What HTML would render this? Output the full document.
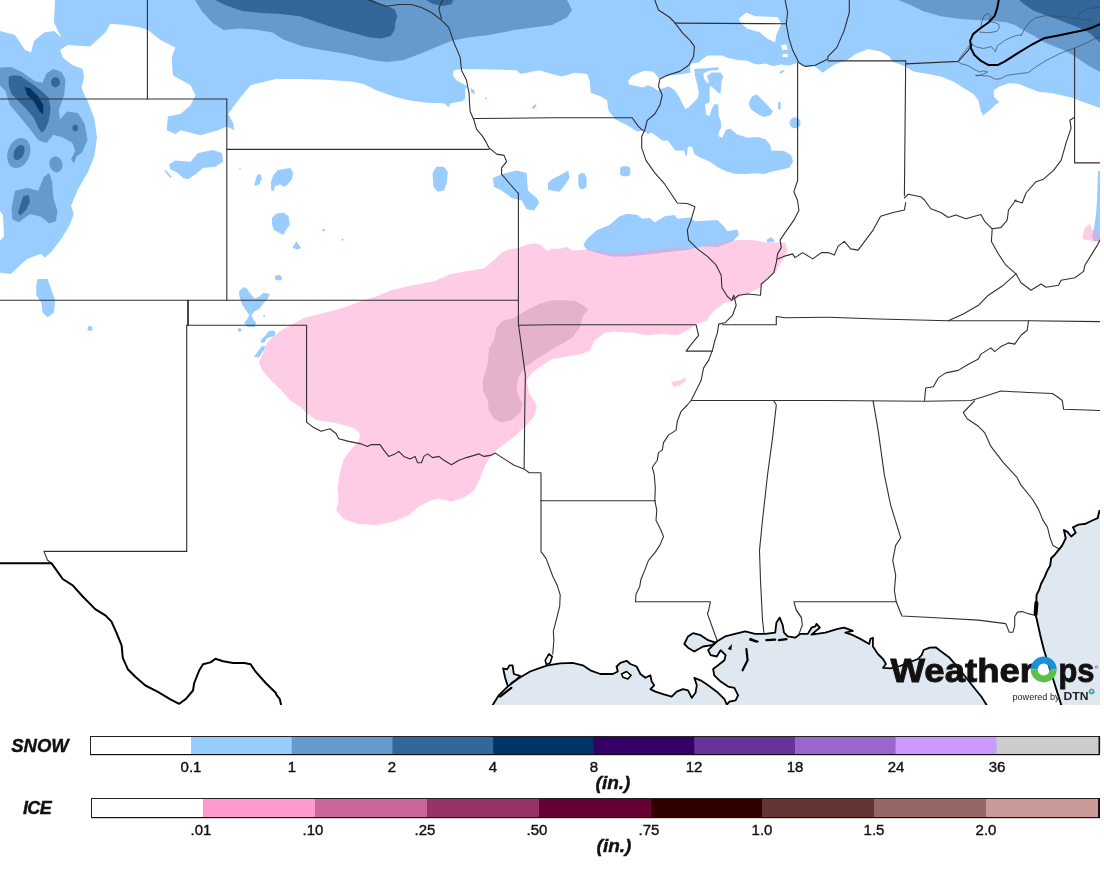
<!DOCTYPE html>
<html><head><meta charset="utf-8"><title>WeatherOps Snow and Ice</title>
<style>
html,body{margin:0;padding:0;background:#fff;}
body{width:1104px;height:878px;position:relative;overflow:hidden;font-family:"Liberation Sans",sans-serif;color:#111;}
.lb{-webkit-text-stroke:0.4px #111;will-change:transform;position:absolute;width:100px;text-align:center;line-height:1.15;white-space:nowrap;}
</style></head><body>
<svg id="map" width="1100" height="705" viewBox="0 0 1100 705" style="position:absolute;left:0;top:0;will-change:transform">
<rect width="1100" height="705" fill="#fff"/>
<polygon points="493.0,704.6 498.8,695.3 507.6,686.6 517.6,679.0 530.1,671.5 540.2,667.8 547.7,665.3 560.2,663.3 572.7,662.8 582.8,665.3 590.3,670.3 600.3,674.0 612.8,674.0 617.8,671.5 616.6,666.5 620.4,662.8 626.6,660.8 630.4,664.0 636.6,666.5 640.4,674.0 645.4,677.8 650.4,675.3 651.7,681.6 654.2,685.3 650.4,689.1 655.4,691.6 663.0,694.1 671.7,696.6 676.7,691.6 683.0,689.1 688.0,690.3 691.8,697.8 695.5,692.8 696.8,685.3 694.3,677.8 700.6,680.3 708.1,685.3 718.1,692.8 724.4,699.1 726.9,704.6 729.4,701.6 735.6,700.4 738.1,695.3 734.4,687.8 728.1,686.6 720.6,681.6 714.3,675.3 713.1,669.0 718.1,665.3 724.4,660.3 725.6,655.2 720.6,650.2 716.8,656.5 710.6,655.2 708.1,650.2 713.1,645.2 716.8,641.5 725.1,636.4 735.1,633.9 745.1,631.4 755.1,633.9 765.2,633.9 775.2,632.7 776.4,622.7 779.7,617.6 782.7,625.2 784.0,632.7 787.7,636.4 795.2,637.7 800.3,633.9 807.8,633.9 811.5,627.7 815.3,626.4 816.5,623.9 819.8,627.7 815.3,631.4 811.5,634.7 825.3,632.7 837.8,628.9 844.1,627.7 852.9,630.9 845.4,632.7 852.9,635.2 860.4,638.9 869.2,644.0 870.4,638.9 872.9,637.7 872.9,646.5 877.9,654.0 883.0,659.0 886.0,664.0 883.0,667.8 890.5,668.3 900,666 910,662 918,659 921.6,655.2 923.6,650 929.7,647.7 935.8,647.3 940.9,651.2 949,657.2 957,666.4 965.2,676.5 973.3,686.7 981.4,696.8 986.5,704.8 986.5,705 492.8,705" fill="#dfe7f0" />
<polygon points="1099.4,510.9 1097.6,518.2 1091.2,521 1085.8,523.7 1078.5,524.6 1073,527.3 1075.7,532.8 1071.2,536.5 1067.5,531.9 1063.9,530.1 1065.7,538.3 1062.1,545.6 1059.3,549.2 1054.8,554.7 1051.1,558.3 1050.2,565.6 1047.5,570.2 1044.8,576.6 1041.1,583.8 1039.3,589.3 1036.6,594.8 1036.2,603.9 1035.1,613 1036.6,618.5 1040.2,634.9 1043.8,649.5 1061.2,704.8 1100,705 1100,510.9" fill="#dfe7f0" />
<polygon points="684.3,644.0 688.0,636.4 693.0,633.2 700.6,635.2 708.1,640.2 715.6,642.7 711.8,645.2 703.1,646.5 694.3,651.5 688.0,647.7" fill="#dfe7f0" />
<polygon points="507.6,685.3 505.1,677.8 503.1,668.3 507.1,669.3 509.6,665.3 512.6,665.3 513.8,674.0 520.1,675.8 516.3,679.8 511.3,683.3" fill="#dfe7f0" />
<polygon points="621.6,674.0 626.6,671.5 631.1,675.3 627.9,679.0 622.9,677.3" fill="#fff" />
<g>
<polygon points="55,0 1100,0 1100,108.1 1091.0,104.8 1080.5,100.9 1071.4,97.6 1062.2,95.6 1051.7,93.0 1038.6,91.7 1028.1,87.8 1019.0,83.9 1008.5,83.2 999.3,86.5 993.4,90.4 994.1,97.0 999.3,102.2 995.4,104.8 990.1,110.1 983.6,115.0 984.6,117.8 980.9,111.5 978.4,100.3 973.4,94.0 963.3,87.7 953.3,81.5 940.8,76.4 928.3,73.9 913.2,71.4 905.7,66.4 891.9,61.4 889.4,56.4 880.6,51.4 868.1,48.9 855.6,53.9 846.8,60.2 835.5,63.9 828.0,68.9 822.7,72.7 815.2,66.4 802.6,66.4 798.4,62.6 789.3,65.4 780.3,64.5 773.0,66.3 765.8,63.6 758.6,64.5 753.1,63.6 747.7,60.8 736.8,59.9 725.9,57.2 722.3,55.4 707.8,55.4 702.4,59.0 698.8,62.6 691.5,63.6 689.7,67.2 690.6,72.6 686.1,73.5 678.8,74.4 671.6,75.3 664.3,77.1 659.8,78.9 658.0,77.1 653.5,71.7 644.4,70.8 637.2,73.5 631.7,76.2 628.1,80.8 629.0,84.4 637.2,86.2 642.6,87.5 648.0,85.3 653.5,87.5 658.0,90.7 659.8,88.9 664.3,88.0 668.0,86.2 674.3,89.8 678.8,96.2 682.5,103.4 685.2,108.8 687.9,107.9 693.3,102.5 697.9,98.0 698.8,92.5 697.0,83.5 695.1,76.2 694.2,69.0 718.7,67.2 718.7,69.9 708.7,70.8 703.3,73.5 704.2,78.9 707.8,83.5 708.7,80.8 706.9,76.2 711.4,72.6 720.5,72.6 723.2,76.2 721.4,82.6 720.5,94.3 716.9,91.6 711.4,86.2 709.6,87.1 709.6,102.5 705.1,104.3 706.0,114.3 709.6,116.1 711.4,109.7 714.2,104.3 718.3,104.3 718.7,116.1 720.9,121.5 721.4,127.0 718.7,132.4 718.3,136.0 722.3,137.8 725.9,129.7 730.5,128.8 736.8,134.2 747.7,137.8 758.6,136.9 765.8,139.6 770.3,145.1 771.2,150.5 783.9,150.9 791.2,155.0 793.0,161.4 789.3,167.7 782.1,169.5 773.0,171.3 764.0,174.1 754.9,173.2 744.1,174.1 735.0,173.7 725.9,171.3 716.9,166.8 709.6,161.4 700.6,157.8 694.2,154.1 692.4,146.9 687.9,146.5 687.0,155.9 685.2,155.0 684.3,150.5 675.2,150.5 669.8,143.3 668.0,140.5 662.5,140.5 656.2,136.0 651.7,132.4 648.0,134.2 643.5,130.6 637.2,131.6 627.2,125.3 614.7,119.0 608.4,110.3 607.1,100.3 600.9,96.5 590.8,92.7 589.6,80.2 587.1,73.9 574.6,72.7 562.0,76.4 552.0,73.9 539.2,70.2 526.6,72.7 520.4,73.9 516.6,70.2 476.5,68.9 461.5,68.9 453.9,70.2 452.7,75.2 456.5,80.2 467.7,86.5 465.2,89.0 465.2,99.0 461.5,101.5 450.2,103.3 448.9,107.3 443.9,103.3 426.4,102.8 408.8,100.3 393.8,96.5 376.3,90.2 363.7,84.0 351.2,81.5 326.1,79.7 301.1,78.9 276.0,78.9 250.6,85.2 238.1,100.3 228.1,114.0 233.1,122.8 234.3,130.3 226.8,126.6 218.0,130.3 200.5,135.3 180.5,130.3 175.4,134.1 166.7,130.3 167.9,116.5 180.5,114.0 190.5,105.3 195.5,95.2 190.5,85.2 172.9,75.2 171.7,57.6 175.4,47.6 160.4,40.1 147.9,30.1 140.4,27.6 125.3,25.1 110.3,23.8 105.3,32.6 90.2,46.4 67.7,45.1 60.2,50.1 62.7,57.6 72.7,65.2 82.7,68.9 84.0,77.7 81.5,87.7 85.2,96.5 87.5,100.6 94.3,118.3 97,137.5 94.3,156.6 87.5,173 77.9,189.4 71,205.8 73.8,214 69.7,225 61.5,238.6 52,251 45,257.8 41,253.7 27.3,259 19,266 11,274 0,272.8 0,241 4,236 3,215 0,211 0,31 15,35 25,50 31,52.6 34,41 44,32.6 54,31 61.4,37.6 57.6,30 54,22.5" fill="#99ccff" />
<polygon points="169.2,164.2 175.4,160.4 190.5,161.7 198.0,152.9 213.0,149.9 221.8,152.9 223.1,161.7 215.5,166.7 203.0,167.9 195.5,174.2 188.0,179.2 183.0,177.9 177.9,172.9 170.4,169.2" fill="#99ccff" />
<polygon points="164.2,170.4 165.9,169.9 171.7,176.7 170.4,177.9" fill="#99ccff" />
<polygon points="254.4,184.2 256.9,175.4 260.2,173.7 261.9,177.9 259.4,184.2 255.6,186.0" fill="#99ccff" />
<polygon points="271.3,190.8 270.9,182.6 273.1,175.4 277.6,170.3 284,169 290.3,168.1 293,172.6 292.1,179 287.6,184.4 284,187.1 280.3,184.4 274.9,186.2 274,190.8" fill="#99ccff" />
<polygon points="432.6,172.9 436.4,166.7 443.9,166.7 447.7,171.7 446.9,183.0 443.9,190.5 437.7,191.7 433.4,186.7" fill="#99ccff" />
<polygon points="492.8,177.9 501.6,174.2 516.6,170.4 526.6,172.9 527.9,190.5 536.7,198.0 539.2,203.0 534.1,210.5 526.6,209.3 521.6,200.5 511.6,198.0 501.6,190.5 494.0,186.7" fill="#99ccff" />
<polygon points="548,183 552,179.2 559.5,175.4 568.3,170.4 569.5,177.9 564.5,185.5 559.5,191.7 552,190.5 548,190" fill="#99ccff" />
<polygon points="578.3,175.4 580.8,172.9 584.6,173.4 586.6,177.9 586.6,186.7 583.3,189.2 579.6,188.5 578.3,184.2" fill="#99ccff" />
<polygon points="620.2,167.9 622.2,166.2 628.4,166.2 630.2,168.4 630.2,174.2 628.4,176.2 622.2,176.2 620.2,174.2" fill="#99ccff" />
<polygon points="748.6,102.5 752.2,96.2 756.7,94.3 761.3,98.9 767.6,105.2 773.0,111.6 770.3,115.2 764.0,117.0 756.7,113.4 750.4,108.8" fill="#99ccff" />
<polygon points="778.1,102.5 779.4,101.6 780.7,102.5 780.7,108.8 779.4,109.7 778.1,108.8" fill="#99ccff" />
<polygon points="778.5,74.1 781.2,70.4 784.8,69.9 783.0,72.6" fill="#99ccff" />
<polygon points="272,218 276,213.8 283.5,212.5 288.5,216.3 289.8,225 286,230 283.5,235 278.5,232.6 274,230 272,224" fill="#99ccff" />
<polygon points="296.5,241.4 301,248 297,249.6 292.3,247.5" fill="#99ccff" />
<polygon points="276,275.2 280,275 282.3,278 281,280.2 276,280.2 274.5,278" fill="#99ccff" />
<polygon points="239.1,291.1 244.2,287.1 247.1,288.8 249.9,293.3 254.5,298.5 259,296.8 263.6,292.8 269.8,293.9 267.6,299 263.6,303 259.6,308.7 254.5,311.6 251.6,315 252.8,318.4 256.2,323 254.5,326.9 247.6,326.9 244.2,323 247.6,318.4 249.3,315 246.5,311 242.5,305.3 240.2,299 239.1,294.5" fill="#99ccff" />
<polygon points="261.3,342.9 260.7,340 263.6,337.2 265.9,334.9 268.7,330.9 273.8,330.4 275.5,332.6 274.4,336.1 269.3,337.2 265.9,339.5 264.7,342.3" fill="#99ccff" />
<polygon points="253.9,357.1 256.2,353.7 259,349.7 261.9,346.3 265.3,346.1 264.2,349.7 261.3,353.7 259,357.5" fill="#99ccff" />
<polygon points="37.6,279 47.6,279 55.1,300.3 53.9,312.8 47.6,317.3 42.6,312.8 41.4,302.8 36.3,295.2 36.3,285.2" fill="#99ccff" />
<polygon points="583.3,245.1 587.1,238.8 597.1,230.1 609.6,225.1 619.7,216.3 627.2,213.8 637.2,215.0 642.2,218.8 649.7,218.0 654.8,222.6 664.8,216.3 674.8,215.0 677.3,218.8 689.8,217.5 694.9,221.3 717.4,220.1 724.9,227.6 727.4,231.3 737.5,229.6 738.7,235.1 732.5,241.4 717.4,247.1 702.4,246.6 687.3,250.1 672.3,251.6 652.3,254.1 627.2,256.6 612.2,256.6 597.1,253.1 587.1,250.1" fill="#99ccff" />
<polygon points="766.3,240.1 771.3,237.1 775.1,241.4 767.5,242.6" fill="#99ccff" />
<polygon points="1098,171 1100,171 1100,241 1094,241 1092,236 1094,228 1096,215 1097,200" fill="#99ccff" />
<polygon points="470.2,87.7 474.0,90.2 475.2,94.0 471.5,92.7" fill="#99ccff" />
<polygon points="531.6,107.8 535.4,104.0 536.7,105.8 533.6,109.0" fill="#99ccff" />
<circle cx="486" cy="98.5" r="0.9" fill="#99ccff"/>
<circle cx="795.1" cy="122.8" r="5.5" fill="#99ccff"/>
<circle cx="90" cy="328.6" r="2.5" fill="#99ccff"/>
<circle cx="239.7" cy="329.8" r="1.9" fill="#99ccff"/>
<circle cx="264.2" cy="316.1" r="1.1" fill="#99ccff"/>
<circle cx="240" cy="168.5" r="0.8" fill="#99ccff"/>
<circle cx="323.6" cy="230" r="1.3" fill="#99ccff"/>
<circle cx="342.4" cy="239.6" r="1.1" fill="#99ccff"/>
<polygon points="738.7,18.8 746.2,12.5 755.0,16.3 777.6,17.0 781.3,23.8 776.3,35.1 775.1,42.6 767.5,38.8 760.0,32.6 747.5,28.8 741.2,23.8" fill="#fff" />
<polygon points="781.3,45.1 786.3,44.6 787.6,49.6 782.1,50.1" fill="#fff" />
<polygon points="782.6,53.9 787.6,53.9 787.6,57.1 782.6,57.1" fill="#fff" />
<polygon points="195,0 201.7,10.9 212.6,23 223.5,29.9 239.8,28.5 258.8,29.9 272.4,32.6 283.3,39.4 302.3,46.2 324,50.3 348.5,54.3 370.2,59.8 386.5,62 402.8,60.3 419,54.3 438,46.2 451.7,40.8 468,37.5 480,35.9 489,35.1 514.1,30.1 552,25.1 567,17.5 572,10 567,0" fill="#6699cc" />
<polygon points="898.2,0 910.7,5 923.2,11.3 940.8,16.3 958.3,18.8 973,19.7 992.8,21 1005.9,22.3 1015,24.9 1022.9,30.1 1033.4,35.4 1043.9,41.9 1054.3,46.5 1064.8,50.4 1072.7,55 1080.5,60.3 1088.4,65.5 1096.3,70 1100,71.4 1100,0" fill="#6699cc" />
<polygon points="0,67.8 11,67 21.9,71.9 35.5,81.4 42.4,82.8 46.5,73.2 53.3,69 61.5,71.9 65.6,80 64.2,95 58.8,110 60,119.7 67,111.5 78,112.9 84.7,123.8 87.5,140.2 82,152.5 76.5,156.6 73.8,163.4 71,159.3 75.2,151 72.4,143 62.9,137.5 53.3,134.7 46.5,143 38.3,140.2 30,129.3 19,115.6 9.6,104.7 5.5,91 0,85.5" fill="#6699cc" />
<polygon points="15,190.8 27.3,188 38.3,190.8 43.7,177 49.2,173 52,181.2 53.3,197.6 57.4,211.3 56,220.9 49.2,223.6 41,216.8 30,214 19,222.2 12.3,219.5 11.5,208.6" fill="#6699cc" />
<ellipse cx="18.8" cy="153" rx="11" ry="15.5" transform="rotate(20 18.8 153)" fill="#6699cc"/>
<ellipse cx="56" cy="164.3" rx="6.5" ry="8" transform="rotate(-15 56 164.3)" fill="#6699cc"/>
<polygon points="215.3,0 226.2,5.4 242.5,10.9 261.5,13 280.5,14 299.6,16.3 315.9,21.7 332.2,27.2 351.2,32.6 370.2,37.5 381,38.6 390.6,35.9 394.7,29.9 395.2,23 397.4,16.3 394.7,9.5 389.2,6.8 381,4 373,0" fill="#336699" />
<polygon points="426,0 432.7,4 443.6,6 451.7,4 453,0" fill="#336699" />
<polygon points="1019,0 1025.5,5.2 1033.4,10.5 1043.9,14.4 1054.3,18.3 1064.8,22.3 1075.3,26.2 1084.5,30.1 1091,34 1096.3,39.3 1100,42.6 1100,0" fill="#336699" />
<polygon points="8.7,76.8 13.7,75.2 20.5,76 30,82.3 41,90.5 48.7,97.8 50.6,108.8 48.7,121.1 45.1,129.8 41.6,132.6 38.3,127.9 34.2,118.3 26,108.8 17.8,100.6 11.5,93.7 8.7,85.5" fill="#336699" />
<polygon points="23.2,196.3 28.7,195 30,201.7 26,210 20.5,215.4 17.8,212.7 20.5,204.5" fill="#336699" />
<ellipse cx="55.5" cy="82.3" rx="4.5" ry="5" transform="rotate(0 55.5 82.3)" fill="#336699"/>
<ellipse cx="75.2" cy="128" rx="2.8" ry="3.3" transform="rotate(0 75.2 128)" fill="#336699"/>
<ellipse cx="19" cy="152.5" rx="5" ry="8" transform="rotate(25 19 152.5)" fill="#336699"/>
<polygon points="24.6,87 30,88.3 38.3,96.5 43.2,104.7 43.2,114.2 39.6,111.5 34.2,102 27.3,95" fill="#003366" />
</g>
<g opacity="0.5">
<polygon points="259,362.3 261.3,356.6 264.7,349.7 267,342.9 271.6,338.3 277.3,333.2 283,329.2 289.8,325.8 294.3,322.9 304.5,317.8 319,314.2 333.5,310.6 348,306.2 358.1,301.9 368.3,299 377,296.1 391.4,290.3 405.9,286.7 420.4,283.8 434.9,280.9 450,274.3 466.1,271.3 483.5,268.4 489.3,264.1 495.1,259 500.9,253.2 508.1,249.6 518.3,248.1 527,244.5 535.7,243.3 541.4,245.2 547.2,251 551.6,248.8 560.3,248.8 566.1,246.7 571.9,250.3 579.1,250.3 584.9,249.6 592.2,250.3 600,251.7 617.2,254.6 634.7,252.1 657.3,250.1 677.3,247.6 692.4,248.9 707.4,245.1 722.4,242.6 737.5,240.1 752.5,240.1 767.5,242.6 785.1,242.6 787.6,250.1 782.6,260.2 775.1,272.7 765.0,280.2 760.0,287.7 750.0,292.7 740.0,296.5 732.5,301.5 724.9,302.8 717.4,307.8 709.9,315.3 707.4,320.3 697.4,324.1 687.3,330.3 677.3,335.3 662.3,334.1 647.2,335.3 632.2,332.8 614.7,331.6 604.6,332.8 594.6,340.4 589.6,350.4 582.1,354.1 567.0,356.6 552.0,359.1 541.7,365.4 531.6,372.9 526.6,380.5 529.1,393.0 535.4,403.0 536.7,407.5 534.1,416.3 526.6,425.1 516.6,435.1 506.6,442.6 496.6,450.1 489.0,458.9 484.0,467.7 480.3,477.7 474.0,490.2 464.0,497.7 451.4,501.5 438.9,498.5 431.4,500.3 418.9,506.5 408.8,515.3 393.8,521.6 376.3,525.3 358.7,524.1 343.7,519.0 336.2,510.3 338.7,500.3 337.4,487.7 339.9,472.7 343.7,458.9 351.2,448.9 358.7,441.4 360.0,433.8 353.7,428.1 343.7,425.1 331.1,422.1 316.1,420.1 307.3,413.8 301.1,407.5 289.8,400.0 281,390 270.7,380 262,370" fill="#ff99cc" />
<polygon points="671.0,381.7 679.8,380.5 684.8,377.4 686.1,380.5 679.8,385.5 673.6,386.7" fill="#ff99cc" />
<polygon points="1082.4,237.6 1084.9,227.6 1089.9,223.8 1092.4,230.1 1100,232.6 1100,241.4 1093.7,241.4 1088.6,240.1 1083.6,239.6" fill="#ff99cc" />
</g>
<polygon points="551.9,300.3 539.2,304.0 526.6,310.3 514.1,317.8 501.6,321.6 496.6,327.8 494.0,340.4 489.0,347.9 487.8,362.9 482.8,380.5 482.8,390.5 487.8,400.5 489.0,413.0 488.5,410.0 494.0,418.8 501.6,422.6 511.6,420.1 520.4,412.5 522.9,402.5 520.4,400.5 516.6,390.5 517.9,377.9 524.1,367.9 534.1,360.4 546.7,352.9 551.9,349.1 562.0,344.1 572.1,337.8 579.6,327.8 583.3,315.3 588.3,309.8 583.3,305.3 574.6,300.8 562.0,300.3" fill="#e5b2cc" />
<polyline points="147.4,0 147.4,99" fill="none" stroke="#303030" stroke-width="1.1" stroke-linejoin="round" stroke-linecap="round" />
<polyline points="0,99 226.8,99" fill="none" stroke="#303030" stroke-width="1.1" stroke-linejoin="round" stroke-linecap="round" />
<polyline points="226.8,99 226.8,300.2" fill="none" stroke="#303030" stroke-width="1.1" stroke-linejoin="round" stroke-linecap="round" />
<polyline points="226.8,149.4 489,149.4" fill="none" stroke="#303030" stroke-width="1.1" stroke-linejoin="round" stroke-linecap="round" />
<polyline points="0,300.2 518.4,300.2" fill="none" stroke="#303030" stroke-width="1.1" stroke-linejoin="round" stroke-linecap="round" />
<polyline points="187.7,300.2 187.7,325.3" fill="none" stroke="#303030" stroke-width="1.1" stroke-linejoin="round" stroke-linecap="round" />
<polyline points="188.3,300.2 188.3,325.3" fill="none" stroke="#303030" stroke-width="1.1" stroke-linejoin="round" stroke-linecap="round" />
<polyline points="186.7,325.3 186.7,551.4" fill="none" stroke="#303030" stroke-width="1.1" stroke-linejoin="round" stroke-linecap="round" />
<polyline points="186.7,325.3 306.6,325.3 306.6,422" fill="none" stroke="#303030" stroke-width="1.1" stroke-linejoin="round" stroke-linecap="round" />
<polyline points="368.7,0.0 376.3,3.0 386.3,6.3 398.8,4.5 411.3,4.5 421.4,7.5 431.4,12.5 441.4,20.1 448.9,27.6 451.4,35.1 453.9,42.6 457.7,51.4 460.2,57.6 461.5,70.2 464.0,75.2 466.5,80.2 467.7,86.5 469.0,92.7 469.5,102.8 470.2,111.5 474.0,120.3 476.5,129.1 482.8,136.6 486.5,142.9 489.0,147.9 496.6,154.1 504.1,155.4 506.6,161.7 501.6,167.9 501.6,174.2 509.1,183.0 517.9,193.0" fill="none" stroke="#303030" stroke-width="1.1" stroke-linejoin="round" stroke-linecap="round" />
<polyline points="442.7,0.0 440.2,5.0 438.9,8.8 441.4,18.8" fill="none" stroke="#303030" stroke-width="1.1" stroke-linejoin="round" stroke-linecap="round" />
<polyline points="518.4,193 518.4,325.3" fill="none" stroke="#303030" stroke-width="1.1" stroke-linejoin="round" stroke-linecap="round" />
<polyline points="474.0,118.5 551.9,117.8 552.0,117.8 632.2,117.8 638.5,126.6 643.5,130.8" fill="none" stroke="#303030" stroke-width="1.1" stroke-linejoin="round" stroke-linecap="round" />
<polyline points="654.8,0.0 658.5,10.0 669.8,17.5 674.8,22.6 682.3,32.6 689.8,40.1 694.4,46.4 693.6,56.4 688.6,65.2 679.8,71.4 667.3,75.2 659.8,78.9 658.5,86.5 662.3,95.2 659.8,105.3 654.8,114.0 647.2,120.3 644.7,130.3 641.7,136.6 641.7,147.9 646.0,160.4 654.8,172.9 664.8,184.2 672.3,195.5 677.3,203.0 687.3,203.5 694.9,206.8 692.4,215.5 691.1,220.1 687.3,230.1 688.6,240.1 697.4,248.9 707.4,256.4 716.2,265.2 721.2,275.2 721.9,287.7 727.4,296.5 731.9,300.3 733.7,295.2 736.2,305.3 732.5,315.3 724.9,322.8 718.7,324.1 717.4,332.8 714.9,340.4 712.4,350.4 708.6,360.4 703.6,367.9 701.1,380.5 696.1,390.5 691.1,400.5 687.3,405.0 681.1,411.3 677.3,421.3 676.1,430.1 668.5,435.1 663.5,442.6 662.3,450.1 658.5,452.6 657.3,460.2 652.3,467.2 654.3,475.2 655.3,487.7 654.8,500.3 656.8,510.3 656.0,520.3 661.0,530.3 663.5,536.6 659.8,545.4 654.8,552.9 648.5,560.4 644.7,570.4 641.0,579.2 639.7,586.7 636.0,594.2 635.5,601.8" fill="none" stroke="#303030" stroke-width="1.1" stroke-linejoin="round" stroke-linecap="round" />
<polyline points="674.8,23.1 786.3,23.8" fill="none" stroke="#303030" stroke-width="1.1" stroke-linejoin="round" stroke-linecap="round" />
<polyline points="785.1,0.0 787.6,12.5 786.3,23.8 788.8,37.6 792.6,50.1 798.9,62.7 805.1,66.4 815.2,65.2 827.9,58.9 828.0,56.4 836.8,47.6 844.3,30.1 849.3,12.5 849.3,0.0" fill="none" stroke="#303030" stroke-width="1.1" stroke-linejoin="round" stroke-linecap="round" />
<polyline points="797.6,62.7 797.6,180.5 793.9,191.7 797.6,200.5 798.9,210.5 793.9,220.1 785.1,232.6 780.1,240.1 781.3,247.6 777.6,253.9 776.3,262.7 773.8,272.7 767.5,278.9 761.3,284.0 760.5,295.2 747.5,294.0 738.7,295.2 733.7,299.0" fill="none" stroke="#303030" stroke-width="1.1" stroke-linejoin="round" stroke-linecap="round" />
<polyline points="777.6,258.9 783.8,256.4 792.6,253.9 795.1,257.6 802.6,252.6 812.7,258.9 821.4,252.6 827.9,252.6 828.0,252.6 834.3,255.1 838.0,246.4 844.3,241.4 850.6,248.9 858.1,250.1 865.6,240.1 873.1,230.1 880.6,216.3 893.2,212.5 904.4,210.0 905.7,202.5" fill="none" stroke="#303030" stroke-width="1.1" stroke-linejoin="round" stroke-linecap="round" />
<polyline points="828.0,60.9 905.7,60.9" fill="none" stroke="#303030" stroke-width="1.1" stroke-linejoin="round" stroke-linecap="round" />
<polyline points="905.7,63.9 958.3,61.4 968.4,50.1 972.1,43.9" fill="none" stroke="#303030" stroke-width="1.1" stroke-linejoin="round" stroke-linecap="round" />
<polyline points="905.7,60.9 904.4,195.5" fill="none" stroke="#303030" stroke-width="1.1" stroke-linejoin="round" stroke-linecap="round" />
<polyline points="904.4,198.0 908.2,194.2 920.7,196.7 924.5,200.0 930.8,208.8 940.8,212.5 948.3,217.5 955.8,215.0 965.8,218.8 980.9,214.5 984.6,221.3 992.2,228.8 1000.9,227.6 1007.2,220.1 1008.5,210.0 1016.0,200.0 1014.7,200.5 1022.2,203.0 1026.0,193.0 1036.0,181.7 1043.5,179.2 1053.6,170.4 1061.1,160.4 1066.1,142.9 1071.1,127.8 1069.9,120.3 1074.4,117.3" fill="none" stroke="#303030" stroke-width="1.1" stroke-linejoin="round" stroke-linecap="round" />
<polyline points="1074.6,48.5 1074.6,162.9 1100,162.9" fill="none" stroke="#303030" stroke-width="1.1" stroke-linejoin="round" stroke-linecap="round" />
<polyline points="992.2,228.8 991.4,241.4 998.4,253.9 1005.9,265.2 1016.0,273.9" fill="none" stroke="#303030" stroke-width="1.1" stroke-linejoin="round" stroke-linecap="round" />
<polyline points="1016.0,273.9 1003.4,285.2 988.4,295.2 978.4,305.3 963.3,314.0 948.3,320.8" fill="none" stroke="#303030" stroke-width="1.1" stroke-linejoin="round" stroke-linecap="round" />
<polyline points="1016.0,273.9 1021.0,282.7 1031.0,290.2 1041.0,284.0 1046.0,287.2 1058.6,285.2 1061.1,280.2 1074.9,277.7 1083.6,271.4 1084.9,265.2 1091.2,255.1 1097.4,245.1 1099.9,240.1" fill="none" stroke="#303030" stroke-width="1.1" stroke-linejoin="round" stroke-linecap="round" />
<polyline points="722.4,324.8 776.3,324.8 776.3,316.5 785.1,317.8 827.9,317.3 828.0,317.3 878.1,319.0 948.3,320.8 1028.5,320.8 1099.9,321.6" fill="none" stroke="#303030" stroke-width="1.1" stroke-linejoin="round" stroke-linecap="round" />
<polyline points="518.4,325.3 552.0,324.8 696.1,324.8 698.6,335.3 692.4,342.9 686.1,351.1 712.4,351.1" fill="none" stroke="#303030" stroke-width="1.1" stroke-linejoin="round" stroke-linecap="round" />
<polyline points="518.6,325.3 525.4,375.4 524.9,400.0 524.1,468.9 529.1,472.7 540.4,472.7 541,473 541,551.6 546,558.4 549.5,567.5 552.9,576.6 557.4,585.8 560.2,594.9 559.7,606.2 556.3,619.9 553.3,631.3 553.9,640.2 552.7,654" fill="none" stroke="#303030" stroke-width="1.1" stroke-linejoin="round" stroke-linecap="round" />
<polyline points="541,500.8 655.4,500.8" fill="none" stroke="#303030" stroke-width="1.1" stroke-linejoin="round" stroke-linecap="round" />
<polyline points="306.6,422.1 313.6,427.6 321.1,431.3 329.9,428.8 336.2,433.8 338.7,438.8 348.7,441.4 361.2,443.9 367.5,446.4 371.2,444.6 380.0,444.6 383.8,450.1 388.8,456.4 395.0,453.9 398.8,451.4 403.8,456.4 410.1,458.9 415.1,456.4 417.6,462.7 421.4,462.7 423.9,456.4 427.6,453.9 432.6,457.6 438.9,456.4 443.9,460.2 451.4,464.7 459.0,460.2 466.5,457.6 479.0,453.9 484.0,456.4 491.5,455.1 495.3,453.1 504.1,458.9 514.1,465.2 524.1,468.9" fill="none" stroke="#303030" stroke-width="1.1" stroke-linejoin="round" stroke-linecap="round" />
<polyline points="691.1,400.5 771.3,400.5 828.0,400.5 924.5,401.3 970.9,400.5 983.4,396.7 1000.9,391.0 1028.5,392.5 1052.3,393.5 1057.3,396.7 1062.3,400.5 1063.6,409.3 1099.9,410.5" fill="none" stroke="#303030" stroke-width="1.1" stroke-linejoin="round" stroke-linecap="round" />
<polyline points="1028.5,320.8 1027.2,330.3 1021.0,335.3 1014.7,344.1 1008.5,342.9 1000.9,346.6 994.7,351.6 990.9,347.9 980.9,354.1 978.4,359.1 968.4,364.2 958.3,370.4 945.8,372.9 938.3,377.9 933.3,386.7 925.7,388.0 924.5,400.5" fill="none" stroke="#303030" stroke-width="1.1" stroke-linejoin="round" stroke-linecap="round" />
<polyline points="773.8,400.8 776.3,405.0 772.6,437.6 767.5,475.2 762.5,520.3 759.5,550.4 760.5,580.5 762.5,620.1 763.9,632.7" fill="none" stroke="#303030" stroke-width="1.1" stroke-linejoin="round" stroke-linecap="round" />
<polyline points="873.1,400.8 878.1,430.1 884.4,475.2 890.7,505.3 896.9,525.3 900.7,537.8 895.7,545.4 892.7,560.4 895.7,575.4 894.4,590.5 896.2,601.8 901.9,616.0 940.8,618.0 978.4,620.1 1005.6,623.6 1007.4,627.6 1009.2,632.2 1012.9,632.2 1014.7,625.8 1014.7,616.7 1017.4,612.1 1022,611.6 1029.3,613.9 1034.7,615.2" fill="none" stroke="#303030" stroke-width="1.1" stroke-linejoin="round" stroke-linecap="round" />
<polyline points="896.2,601.8 828.0,601.8 793.9,601.8 796.4,610.5 801.4,618.0 796.5,610.1 801.5,617.6 802.3,625.2 799.0,633.9" fill="none" stroke="#303030" stroke-width="1.1" stroke-linejoin="round" stroke-linecap="round" />
<polyline points="635.5,601.8 710.4,601.8 708.6,610.5 707.5,613.9 712.5,627.7 717.5,641.5" fill="none" stroke="#303030" stroke-width="1.1" stroke-linejoin="round" stroke-linecap="round" />
<polyline points="974.6,400.8 963.3,412.5 967.1,418.8 978.4,426.3 984.6,432.6 990.9,446.4 1003.4,462.7 1017.2,477.7 1021.0,485.2 1032.3,499.0 1032.9,500 1038.4,509.1 1042.9,520.1 1047.5,527.3 1050.2,538.3 1053,545.6 1059.3,548.9" fill="none" stroke="#303030" stroke-width="1.1" stroke-linejoin="round" stroke-linecap="round" />
<polyline points="186.7,551.4 43.9,551.4 47.6,560.2 51.4,563.2" fill="none" stroke="#303030" stroke-width="1.1" stroke-linejoin="round" stroke-linecap="round" />
<polyline points="981,28.2 981.6,22.3 984.2,15.7 988.2,13.4 990.4,15.7 989.5,19.7 989.5,21.6 994,22.3 998.7,24.2 999.3,28.2 996.7,31.4 988.8,32.8 979.7,32.1" fill="none" stroke="#3a4a5a" stroke-width="0.7" stroke-linejoin="round" stroke-linecap="round" />
<polyline points="971.8,44.5 977,47.2 983.6,48.5 991.4,46.5 995.4,51.8 997.3,45.9 1004.5,40.6 1012.4,36.7 1020.3,34.7 1021,36 1024.2,29.5 1029.4,22.3 1036,17.7 1045.2,15.7 1058.3,16.4 1071.4,17.7 1084.5,19.7 1091.7,20.7" fill="none" stroke="#3a4a5a" stroke-width="0.7" stroke-linejoin="round" stroke-linecap="round" />
<polyline points="1077.3,17 1081.9,11.8 1089.7,8.5 1100,7.2" fill="none" stroke="#3a4a5a" stroke-width="0.7" stroke-linejoin="round" stroke-linecap="round" />
<polyline points="958.3,61.4 960,57.7 965.2,51.1 969.8,45.2" fill="none" stroke="#3a4a5a" stroke-width="0.7" stroke-linejoin="round" stroke-linecap="round" />
<polyline points="958.3,61.4 960,63.5 967.9,65.5 974.4,69.4 979.7,72 983.6,70.8 987.5,72 983.6,74 977,76 975.5,75.3 988.8,76 995.4,79.3 1000.6,78.6 1007.2,75.3 1016.3,74 1028.1,72.7 1036,66.8 1046.5,60.3 1057,55 1067.4,50.4 1075.3,47.8 1084.5,43.9 1093.6,39.3 1100,36.7" fill="none" stroke="#3a4a5a" stroke-width="0.7" stroke-linejoin="round" stroke-linecap="round" />
<polyline points="0,563.2 51.4,563.2 56.4,570.2 62.7,579.0 72.7,585.3 82.7,596.5 95.2,609.1 105.3,615.3 111.5,621.6 116.5,632.9 121.6,645.4 122.8,657.9 127.8,669.2 135.3,676.7 145.4,685.5 157.9,691.8 170.4,699.3 179.2,703.8 185.5,699.3 193.0,690.5 194.2,683.0 199.2,670.5 203.0,664.2 210.5,662.4 215.5,658.7 223.1,661.2 233.1,662.9 244.4,662.9 250.6,664.2 255.6,671.7 265.7,683.0 275.9,693.0 276.0,694.1 279.8,699.1 281.0,704.6" fill="none" stroke="#000" stroke-width="2.0" stroke-linejoin="round" stroke-linecap="round" />
<polyline points="998.7,0 997.3,7.9 994.7,15.7 988.8,22.3 979.7,28.8 973.1,34.1 970.2,40.6 971.1,48.5 974.4,55 981,60.9 988.2,64.9 998,64.9 1004.5,61.6 1019,52.4 1032,44.5 1043.9,38.3 1058.3,35.4 1071.4,32.8 1084.5,30.1 1092.3,27.5 1100,24.2" fill="none" stroke="#000" stroke-width="2.0" stroke-linejoin="round" stroke-linecap="round" />
<polyline points="493.0,704.6 498.8,695.3 507.6,686.6 517.6,679.0 530.1,671.5 540.2,667.8 547.7,665.3 560.2,663.3 572.7,662.8 582.8,665.3 590.3,670.3 600.3,674.0 612.8,674.0 617.8,671.5 616.6,666.5 620.4,662.8 626.6,660.8 630.4,664.0 636.6,666.5 640.4,674.0 645.4,677.8 650.4,675.3 651.7,681.6 654.2,685.3 650.4,689.1 655.4,691.6 663.0,694.1 671.7,696.6 676.7,691.6 683.0,689.1 688.0,690.3 691.8,697.8 695.5,692.8 696.8,685.3 694.3,677.8 700.6,680.3 708.1,685.3 718.1,692.8 724.4,699.1 726.9,704.6 729.4,701.6 735.6,700.4 738.1,695.3 734.4,687.8 728.1,686.6 720.6,681.6 714.3,675.3 713.1,669.0 718.1,665.3 724.4,660.3 725.6,655.2 720.6,650.2 716.8,656.5 710.6,655.2 708.1,650.2 713.1,645.2 716.8,641.5 725.1,636.4 735.1,633.9 745.1,631.4 755.1,633.9 765.2,633.9 775.2,632.7 776.4,622.7 779.7,617.6 782.7,625.2 784.0,632.7 787.7,636.4 795.2,637.7 800.3,633.9 807.8,633.9 811.5,627.7 815.3,626.4 816.5,623.9 819.8,627.7 815.3,631.4 811.5,634.7 825.3,632.7 837.8,628.9 844.1,627.7 852.9,630.9 845.4,632.7 852.9,635.2 860.4,638.9 869.2,644.0 870.4,638.9 872.9,637.7 872.9,646.5 877.9,654.0 883.0,659.0 886.0,664.0 883.0,667.8 890.5,668.3 900,666 910,662 918,659 921.6,655.2 923.6,650 929.7,647.7 935.8,647.3 940.9,651.2 949,657.2 957,666.4 965.2,676.5 973.3,686.7 981.4,696.8 986.5,704.8" fill="none" stroke="#000" stroke-width="1.8" stroke-linejoin="round" stroke-linecap="round" />
<polyline points="1099.4,510.9 1097.6,518.2 1091.2,521 1085.8,523.7 1078.5,524.6 1073,527.3 1075.7,532.8 1071.2,536.5 1067.5,531.9 1063.9,530.1 1065.7,538.3 1062.1,545.6 1059.3,549.2 1054.8,554.7 1051.1,558.3 1050.2,565.6 1047.5,570.2 1044.8,576.6 1041.1,583.8 1039.3,589.3 1036.6,594.8 1036.2,603.9 1035.1,613 1036.6,618.5 1040.2,634.9 1043.8,649.5 1061.2,704.8" fill="none" stroke="#000" stroke-width="1.9" stroke-linejoin="round" stroke-linecap="round" />
<polyline points="1036.4,603 1035.6,614" fill="none" stroke="#000" stroke-width="4" stroke-linejoin="round" stroke-linecap="round" />
<polyline points="684.3,644.0 688.0,636.4 693.0,633.2 700.6,635.2 708.1,640.2 715.6,642.7 711.8,645.2 703.1,646.5 694.3,651.5 688.0,647.7 684.3,644.0" fill="none" stroke="#000" stroke-width="1.8" stroke-linejoin="round" stroke-linecap="round" />
<polyline points="621.6,674.0 626.6,671.5 631.1,675.3 627.9,679.0 622.9,677.3 621.6,674.0" fill="none" stroke="#000" stroke-width="1.6" stroke-linejoin="round" stroke-linecap="round" />
<polyline points="507.6,685.3 505.1,677.8 503.1,668.3 507.1,669.3 509.6,665.3 512.6,665.3 513.8,674.0 520.1,675.8 516.3,679.8 511.3,683.3" fill="none" stroke="#000" stroke-width="1.8" stroke-linejoin="round" stroke-linecap="round" />
<polyline points="548.9,654.0 552.2,656.5 550.2,662.8 546.4,664.8 545.2,660.3 548.9,654.0" fill="none" stroke="#000" stroke-width="1.6" stroke-linejoin="round" stroke-linecap="round" />
<polyline points="750.1,639.7 757.6,641.5" fill="none" stroke="#000" stroke-width="2.2" stroke-linejoin="round" stroke-linecap="round" />
<polyline points="766.4,640.2 775.2,639.7" fill="none" stroke="#000" stroke-width="2.2" stroke-linejoin="round" stroke-linecap="round" />
<polyline points="778.9,640.2 786.5,639.2" fill="none" stroke="#000" stroke-width="2.2" stroke-linejoin="round" stroke-linecap="round" />
<polyline points="746.4,649.0 747.6,660.3 742.6,670.3" fill="none" stroke="#000" stroke-width="2.2" stroke-linejoin="round" stroke-linecap="round" />
<polyline points="750.7,638.9 755.9,641.5" fill="none" stroke="#000" stroke-width="2.2" stroke-linejoin="round" stroke-linecap="round" />
<polyline points="500.1,696.6 511.3,687.8" fill="none" stroke="#000" stroke-width="2.2" stroke-linejoin="round" stroke-linecap="round" />
<polygon points="727.6,649.0 732.1,644.0 731.3,650.2" fill="#000" />
<g font-family="Liberation Sans, sans-serif">
<text x="890.5" y="681.6" font-size="33" font-weight="700" fill="#111" stroke="#111" stroke-width="0.9" textLength="143.5" lengthAdjust="spacingAndGlyphs">Weather</text>
<path d="M1030.7 669.4 A13 13 0 0 1 1056.7 669.4 L1049.7 669.4 A6 6 0 0 0 1037.7 669.4 Z" fill="#1b8fd8"/>
<path d="M1030.7 669.4 A13 13 0 0 0 1056.7 669.4 L1049.7 669.4 A6 6 0 0 1 1037.7 669.4 Z" fill="#5cc046"/>
<text x="1058.5" y="681.6" font-size="33" font-weight="700" fill="#111" stroke="#111" stroke-width="0.9" textLength="36" lengthAdjust="spacingAndGlyphs">ps</text>
<text x="1012.5" y="700.3" font-size="9.5" fill="#222" textLength="47" lengthAdjust="spacingAndGlyphs">powered by</text>
<text x="1063.5" y="699.9" font-size="10.5" font-weight="700" fill="#222" textLength="25" lengthAdjust="spacingAndGlyphs">DTN</text>
<circle cx="1091.6" cy="691.3" r="1.9" fill="none" stroke="#1b8fd8" stroke-width="1.3"/>
<path d="M1089.1 691.3 A2.5 2.5 0 0 0 1094.1 691.3" fill="none" stroke="#5cc046" stroke-width="1.3"/>
<circle cx="1096.6" cy="667" r="1.2" fill="none" stroke="#333" stroke-width="0.5"/>
</g>

</svg>
<svg width="1104" height="173" viewBox="0 705 1104 173" style="position:absolute;left:0;top:705px" shape-rendering="crispEdges">
<rect x="90" y="736" width="101.5" height="18" fill="#ffffff" shape-rendering="auto"/>
<rect x="191" y="736" width="101.19999999999999" height="18" fill="#99ccff" shape-rendering="auto"/>
<rect x="291.7" y="736" width="101.19999999999999" height="18" fill="#6699cc" shape-rendering="auto"/>
<rect x="392.4" y="736" width="101.20000000000005" height="18" fill="#336699" shape-rendering="auto"/>
<rect x="493.1" y="736" width="101.19999999999993" height="18" fill="#003366" shape-rendering="auto"/>
<rect x="593.8" y="736" width="101.10000000000002" height="18" fill="#330066" shape-rendering="auto"/>
<rect x="694.4" y="736" width="101.10000000000002" height="18" fill="#663399" shape-rendering="auto"/>
<rect x="795" y="736" width="101.10000000000002" height="18" fill="#9966cc" shape-rendering="auto"/>
<rect x="895.6" y="736" width="101.39999999999998" height="18" fill="#cc99ff" shape-rendering="auto"/>
<rect x="996.5" y="736" width="104.0" height="18" fill="#cccccc" shape-rendering="auto"/>
<rect x="90.5" y="736.5" width="1009" height="18" fill="none" stroke="#222" stroke-width="1"/>
<rect x="1098.5" y="736" width="1.5" height="19" fill="#111" shape-rendering="auto"/>
<rect x="90" y="754" width="1010" height="1.2" fill="#111" shape-rendering="auto"/>
<rect x="91" y="798" width="112" height="19" fill="#ffffff"/>
<rect x="203" y="798" width="112" height="19" fill="#ff99cc"/>
<rect x="315" y="798" width="112" height="19" fill="#cc6699"/>
<rect x="427" y="798" width="112" height="19" fill="#993366"/>
<rect x="539" y="798" width="112" height="19" fill="#660033"/>
<rect x="651" y="798" width="111" height="19" fill="#330000"/>
<rect x="762" y="798" width="112" height="19" fill="#663333"/>
<rect x="874" y="798" width="112" height="19" fill="#996666"/>
<rect x="986" y="798" width="113" height="19" fill="#cc9999"/>
<rect x="91.5" y="798.5" width="1007" height="19" fill="none" stroke="#222" stroke-width="1"/>
<rect x="91" y="817" width="1009" height="1.2" fill="#111" shape-rendering="auto"/>
<rect x="1098.5" y="798" width="1.5" height="20" fill="#111" shape-rendering="auto"/>
</svg>
<div class="lb" style="left:141px;top:758.1775px;font-size:15px;font-weight:400;font-style:normal;letter-spacing:0px">0.1</div><div class="lb" style="left:241.7px;top:758.1775px;font-size:15px;font-weight:400;font-style:normal;letter-spacing:0px">1</div><div class="lb" style="left:342.4px;top:758.1775px;font-size:15px;font-weight:400;font-style:normal;letter-spacing:0px">2</div><div class="lb" style="left:443.1px;top:758.1775px;font-size:15px;font-weight:400;font-style:normal;letter-spacing:0px">4</div><div class="lb" style="left:543.8px;top:758.1775px;font-size:15px;font-weight:400;font-style:normal;letter-spacing:0px">8</div><div class="lb" style="left:644.4px;top:758.1775px;font-size:15px;font-weight:400;font-style:normal;letter-spacing:0px">12</div><div class="lb" style="left:745px;top:758.1775px;font-size:15px;font-weight:400;font-style:normal;letter-spacing:0px">18</div><div class="lb" style="left:845.6px;top:758.1775px;font-size:15px;font-weight:400;font-style:normal;letter-spacing:0px">24</div><div class="lb" style="left:946.5px;top:758.1775px;font-size:15px;font-weight:400;font-style:normal;letter-spacing:0px">36</div><div class="lb" style="left:150.7px;top:820.6775px;font-size:15px;font-weight:400;font-style:normal;letter-spacing:0px">.01</div><div class="lb" style="left:262.7px;top:820.6775px;font-size:15px;font-weight:400;font-style:normal;letter-spacing:0px">.10</div><div class="lb" style="left:374.7px;top:820.6775px;font-size:15px;font-weight:400;font-style:normal;letter-spacing:0px">.25</div><div class="lb" style="left:486.70000000000005px;top:820.6775px;font-size:15px;font-weight:400;font-style:normal;letter-spacing:0px">.50</div><div class="lb" style="left:598.7px;top:820.6775px;font-size:15px;font-weight:400;font-style:normal;letter-spacing:0px">.75</div><div class="lb" style="left:711.7px;top:820.6775px;font-size:15px;font-weight:400;font-style:normal;letter-spacing:0px">1.0</div><div class="lb" style="left:823.7px;top:820.6775px;font-size:15px;font-weight:400;font-style:normal;letter-spacing:0px">1.5</div><div class="lb" style="left:935.7px;top:820.6775px;font-size:15px;font-weight:400;font-style:normal;letter-spacing:0px">2.0</div><div class="lb" style="left:-10.5px;top:734.8px;font-size:18.5px;font-weight:700;font-style:italic;letter-spacing:0px">SNOW</div><div class="lb" style="left:-13px;top:798.3px;font-size:18px;font-weight:700;font-style:italic;letter-spacing:-0.6px">ICE</div><div class="lb" style="left:563px;top:772px;font-size:19px;font-weight:700;font-style:italic;letter-spacing:0px">(in.)</div><div class="lb" style="left:563.5px;top:835px;font-size:19px;font-weight:700;font-style:italic;letter-spacing:0px">(in.)</div>
</body></html>
